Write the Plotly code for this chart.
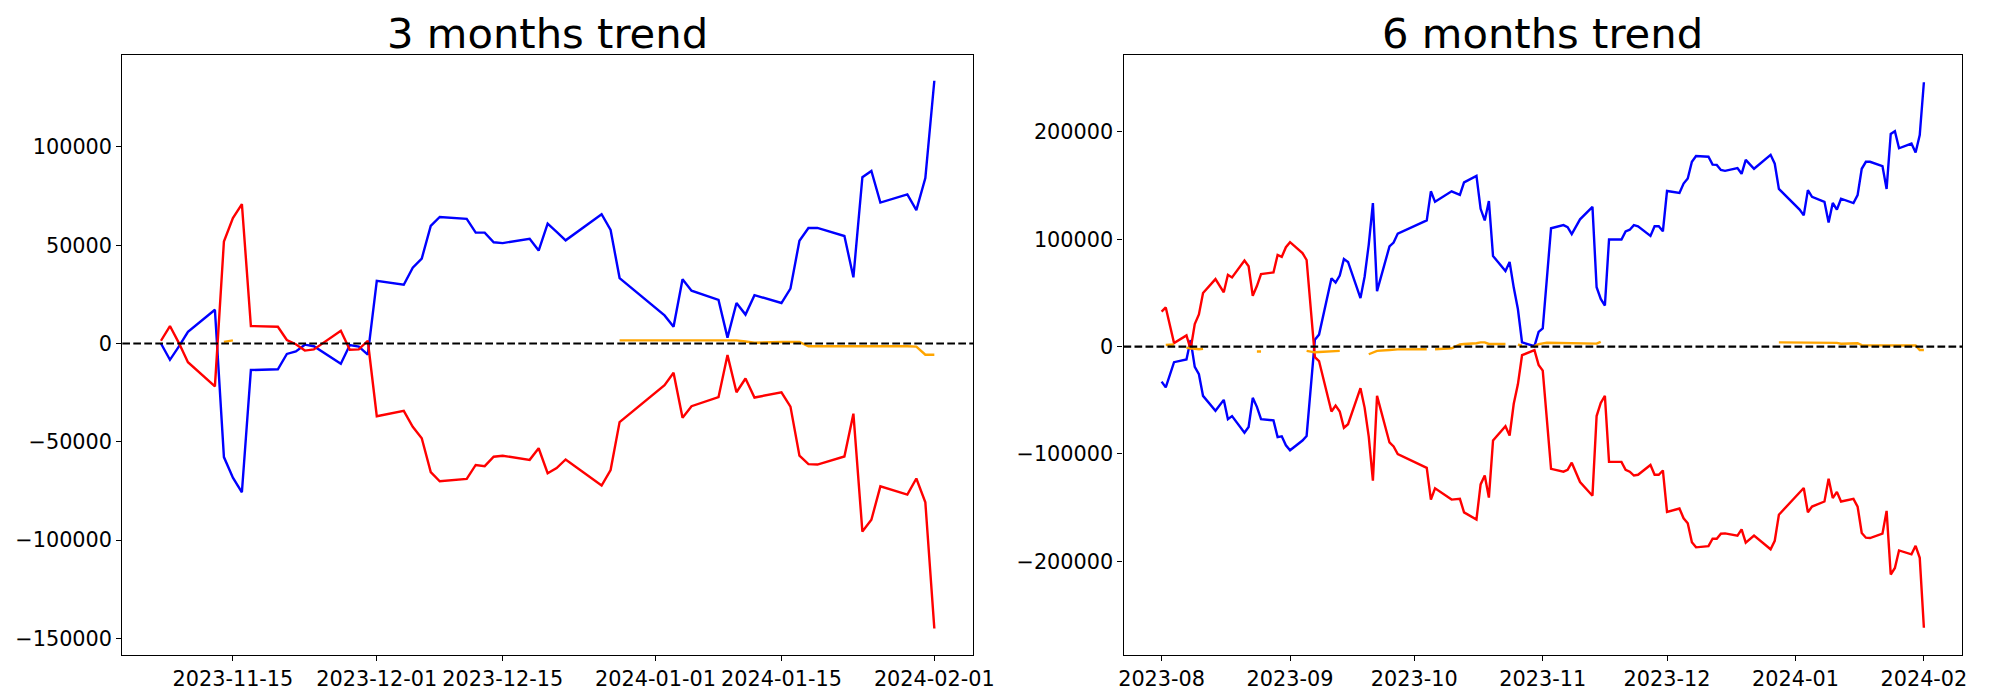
import plotly.graph_objects as go

# ---------------- 3 months data ----------------
dates_3m = ["2023-11-07","2023-11-08","2023-11-09","2023-11-10","2023-11-13","2023-11-14","2023-11-15",
            "2023-11-16","2023-11-17","2023-11-20","2023-11-21","2023-11-22","2023-11-23","2023-11-24",
            "2023-11-27","2023-11-28","2023-11-29","2023-11-30","2023-12-01","2023-12-04","2023-12-05",
            "2023-12-06","2023-12-07","2023-12-08","2023-12-11","2023-12-12","2023-12-13","2023-12-14",
            "2023-12-15","2023-12-18","2023-12-19","2023-12-20","2023-12-21","2023-12-22","2023-12-26",
            "2023-12-27","2023-12-28","2024-01-02","2024-01-03","2024-01-04","2024-01-05","2024-01-08",
            "2024-01-09","2024-01-10","2024-01-11","2024-01-12","2024-01-15","2024-01-16","2024-01-17",
            "2024-01-18","2024-01-19","2024-01-22","2024-01-23","2024-01-24","2024-01-25","2024-01-26",
            "2024-01-29","2024-01-30","2024-01-31","2024-02-01"]
blue_3m = [0,-8300,-1500,5900,17200,-57800,-68300,
           -75700,-13500,-13100,-5300,-4000,-600,-1400,
           -10300,-800,-1600,-5700,31900,29900,38600,
           43200,59800,64400,63400,56400,56400,51500,
           51100,53300,47300,61000,56800,52500,65800,
           57800,33300,14300,8500,32700,26900,22200,
           3000,20600,14700,24600,20600,27900,52300,
           58800,58800,54700,33700,84600,87800,71700,
           75900,67900,84200,133700]
red_3m = [1400,8900,200,-9500,-21800,51900,63800,
          70900,8900,8500,1800,-400,-3600,-3000,
          6500,-3200,-3000,1400,-37000,-34300,-42400,
          -48200,-65400,-70100,-68900,-61800,-62400,-57600,
          -57100,-59200,-53300,-66000,-63400,-59000,-72300,
          -64400,-40000,-21200,-14900,-37800,-31900,-27300,
          -5900,-24800,-17800,-27500,-24800,-32100,-57100,
          -61400,-61600,-57500,-35700,-95700,-89700,-72700,
          -76900,-68700,-80800,-145000]
orange_3m = [None,None,None,None,None,800,1600,
             None,None,None,None,None,None,None,
             None,None,None,None,None,None,None,
             None,None,None,None,None,None,None,
             None,None,None,None,None,None,None,
             None,1600,1600,1600,1600,1600,1600,
             1600,1600,1000,400,800,800,800,
             -1400,-1400,-1400,-1400,-1300,-1200,-1400,
             -1400,-1600,-5700,-5700]

ticks_3m = ["2023-11-15","2023-12-01","2023-12-15","2024-01-01","2024-01-15","2024-02-01"]
yticks_3m = [-150000,-100000,-50000,0,50000,100000]

# ---------------- 6 months data ----------------
dates_6m = ["2023-08-01","2023-08-02","2023-08-04","2023-08-07","2023-08-08","2023-08-09","2023-08-10",
            "2023-08-11","2023-08-14","2023-08-16","2023-08-17","2023-08-18","2023-08-21","2023-08-22",
            "2023-08-23","2023-08-24","2023-08-25","2023-08-28","2023-08-29","2023-08-30","2023-08-31",
            "2023-09-01","2023-09-04","2023-09-05","2023-09-07","2023-09-08","2023-09-11","2023-09-12",
            "2023-09-13","2023-09-14","2023-09-15","2023-09-18","2023-09-19","2023-09-20","2023-09-21",
            "2023-09-22","2023-09-25","2023-09-26","2023-09-27","2023-10-04","2023-10-05","2023-10-06",
            "2023-10-10","2023-10-12","2023-10-13","2023-10-16","2023-10-17","2023-10-18","2023-10-19",
            "2023-10-20","2023-10-23","2023-10-24","2023-10-25","2023-10-26","2023-10-27","2023-10-30",
            "2023-10-31","2023-11-01","2023-11-03","2023-11-06","2023-11-07","2023-11-08","2023-11-10",
            "2023-11-13","2023-11-14","2023-11-15","2023-11-16","2023-11-17","2023-11-20","2023-11-21",
            "2023-11-22","2023-11-23","2023-11-24","2023-11-27","2023-11-28","2023-11-29","2023-11-30",
            "2023-12-01","2023-12-04","2023-12-05","2023-12-06","2023-12-07","2023-12-08","2023-12-11",
            "2023-12-12","2023-12-13","2023-12-14","2023-12-15","2023-12-18","2023-12-19","2023-12-20",
            "2023-12-22","2023-12-26","2023-12-27","2023-12-28","2024-01-02","2024-01-03","2024-01-04",
            "2024-01-05","2024-01-08","2024-01-09","2024-01-10","2024-01-11","2024-01-12","2024-01-15",
            "2024-01-16","2024-01-17","2024-01-18","2024-01-19","2024-01-22","2024-01-23","2024-01-24",
            "2024-01-25","2024-01-26","2024-01-29","2024-01-30","2024-01-31","2024-02-01"]
blue_6m = [-32600,-38000,-14500,-11900,6100,-18800,-25700,
           -45900,-59700,-49600,-67600,-64700,-80300,-74900,
           -47700,-56100,-67600,-68700,-84300,-83600,-91900,
           -96600,-87500,-83200,6500,11200,63700,59700,
           66200,81700,78900,45200,65100,95100,133800,
           51700,93300,96900,105300,117600,144700,134900,
           144700,141400,153000,159100,128400,117600,135600,
           84300,70500,78900,55000,35000,4000,400,
           13700,17000,110300,113200,111400,104900,118600,
           130200,55300,44500,38300,99800,99800,107400,
           108900,113200,112100,103100,112100,112100,107400,
           145000,143200,151900,156600,172200,177600,176900,
           169600,169300,164600,163800,166400,161000,174000,
           165700,178700,170400,146900,127700,122300,145800,
           139600,134900,115700,133800,127700,137800,133800,
           141100,165700,172200,172200,168200,146900,198200,
           200700,184800,189200,180800,197100,246300]
red_6m = [32600,36500,3300,10500,-2500,21000,30000,
          49900,62900,50600,66900,64400,80300,74900,
          47400,56400,67600,69100,85400,83600,92600,
          97300,87200,80700,-9800,-13400,-60400,-55000,
          -60400,-75600,-72300,-38700,-56800,-83900,-124800,
          -45900,-89300,-93000,-100200,-112900,-142500,-132000,
          -142500,-141800,-154400,-161000,-128400,-120100,-140700,
          -87500,-74100,-82800,-53200,-35100,-8000,-3300,
          -17000,-22400,-113900,-116500,-114700,-108100,-126200,
          -138900,-64700,-52500,-45900,-107400,-107400,-114700,
          -116500,-120100,-119400,-110300,-119400,-119400,-115400,
          -154000,-150800,-159900,-164600,-182300,-187000,-185900,
          -179000,-179000,-174300,-174000,-176100,-170300,-182700,
          -176100,-188800,-180900,-156600,-136400,-131700,-154400,
          -149000,-144300,-123000,-141100,-135300,-144300,-141800,
          -149000,-173600,-178000,-178300,-174300,-153000,-212300,
          -206200,-189900,-193500,-185600,-196800,-261900]

# orange series has its own dates; None breaks the line
orange_dates_6m = ["2023-08-02","2023-08-03","2023-08-04","2023-08-05",
                   "2023-08-07","2023-08-08","2023-08-09","2023-08-10","2023-08-11","2023-08-12",
                   "2023-08-24","2023-08-25","2023-08-26",
                   "2023-09-05","2023-09-06","2023-09-07","2023-09-08","2023-09-11","2023-09-12","2023-09-13","2023-09-14",
                   "2023-09-20","2023-09-21","2023-09-22","2023-09-25","2023-09-26","2023-09-27","2023-10-04","2023-10-05",
                   "2023-10-06","2023-10-10","2023-10-12","2023-10-13","2023-10-16","2023-10-17","2023-10-18",
                   "2023-10-19","2023-10-20","2023-10-23","2023-10-25",
                   "2023-10-26","2023-10-27","2023-10-28",
                   "2023-10-30","2023-10-31","2023-11-01","2023-11-02",
                   "2023-11-14","2023-11-15","2023-11-16",
                   "2023-12-28","2024-01-02","2024-01-03","2024-01-04","2024-01-05","2024-01-08","2024-01-09",
                   "2024-01-10","2024-01-11","2024-01-12","2024-01-15","2024-01-16","2024-01-17","2024-01-18",
                   "2024-01-19","2024-01-22","2024-01-23","2024-01-24","2024-01-25","2024-01-26","2024-01-29",
                   "2024-01-30","2024-01-31","2024-02-01"]
orange_6m = [1500,1500,2000,None,
             -1000,-1500,-2200,-2500,-2000,None,
             -4600,-4600,None,
             -4000,-4600,-5300,-5000,-4600,-4300,-4000,None,
             -7100,-5500,-4000,-3100,-2800,-2600,-2500,None,
             -2500,-1500,2000,2500,3200,4000,4000,
             2500,2500,2500,None,
             1800,1100,None,
             400,2200,3000,3600,
             2800,4500,None,
             4000,4000,4000,4000,4000,4000,4000,
             4000,3500,2700,3200,3200,1400,1200,
             1200,1200,1200,1200,1400,1200,1200,
             1100,-3200,-3200]

ticks_6m = ["2023-08-01","2023-09-01","2023-10-01","2023-11-01","2023-12-01","2024-01-01","2024-02-01"]
ticklabels_6m = ["2023-08","2023-09","2023-10","2023-11","2023-12","2024-01","2024-02"]
yticks_6m = [-200000,-100000,0,100000,200000]

FONT = "DejaVu Sans"
LW = 2.4

def fmt(v):
    return ("\u2212" + str(-v)) if v < 0 else str(v)

fig = go.Figure()
for xa, ya, d, b, r, od, o in [
    ("x", "y", dates_3m, blue_3m, red_3m, dates_3m, orange_3m),
    ("x2", "y2", dates_6m, blue_6m, red_6m, orange_dates_6m, orange_6m),
]:
    fig.add_trace(go.Scatter(x=d, y=b, mode="lines", line=dict(color="blue", width=LW),
                             xaxis=xa, yaxis=ya, showlegend=False))
    fig.add_trace(go.Scatter(x=d, y=r, mode="lines", line=dict(color="red", width=LW),
                             xaxis=xa, yaxis=ya, showlegend=False))
    fig.add_trace(go.Scatter(x=od, y=o, mode="lines", line=dict(color="orange", width=LW),
                             connectgaps=False, xaxis=xa, yaxis=ya, showlegend=False))
    fig.add_shape(type="line", xref=xa + " domain", yref=ya, x0=0, x1=1, y0=0, y1=0,
                  line=dict(color="black", width=2.1, dash="7.7px,3.3px"), layer="above")

W = 2000.0
H = 700.0
top_px, bot_px = 55.0, 655.0
ydom = [(H - bot_px) / H, (H - top_px) / H]
xl0, xl1 = 122.3, 973.0
xr0, xr1 = 1123.5, 1962.0

axis_common = dict(showgrid=False, zeroline=False, showline=True, linecolor="black", linewidth=1.1,
                   mirror=True, ticks="outside", ticklen=5, tickwidth=1.1, tickcolor="black",
                   automargin=False,
                   tickfont=dict(family=FONT, size=20.8, color="black"))

fig.update_layout(
    width=int(W), height=int(H),
    margin=dict(l=0, r=0, t=0, b=0, pad=0),
    paper_bgcolor="white", plot_bgcolor="white",
    showlegend=False,
    xaxis=dict(domain=[xl0 / W, xl1 / W], type="date",
               range=["2023-11-02 16:48", "2024-02-05 07:12"],
               tickvals=ticks_3m, ticktext=ticks_3m, anchor="y", **axis_common),
    yaxis=dict(domain=ydom, range=[-158500, 146800], tickvals=yticks_3m,
               ticktext=[fmt(v) for v in yticks_3m], anchor="x", **axis_common),
    xaxis2=dict(domain=[xr0 / W, xr1 / W], type="date",
                range=["2023-07-22 19:12", "2024-02-10 04:48"],
                tickvals=ticks_6m, ticktext=ticklabels_6m, anchor="y2", **axis_common),
    yaxis2=dict(domain=ydom, range=[-287300, 271700], tickvals=yticks_6m,
                ticktext=[fmt(v) for v in yticks_6m], anchor="x2", **axis_common),
    annotations=[
        dict(text="3 months trend", x=(xl0 + xl1) / 2 / W, y=(H - 46.0) / H, xref="paper", yref="paper",
             xanchor="center", yanchor="bottom", showarrow=False, yshift=-14,
             font=dict(family=FONT, size=41.7, color="black")),
        dict(text="6 months trend", x=(xr0 + xr1) / 2 / W, y=(H - 46.0) / H, xref="paper", yref="paper",
             xanchor="center", yanchor="bottom", showarrow=False, yshift=-14,
             font=dict(family=FONT, size=41.7, color="black")),
    ],
)

fig.write_html("out.html", config={"displayModeBar": False},
               post_script="document.body.style.margin='0px';")
